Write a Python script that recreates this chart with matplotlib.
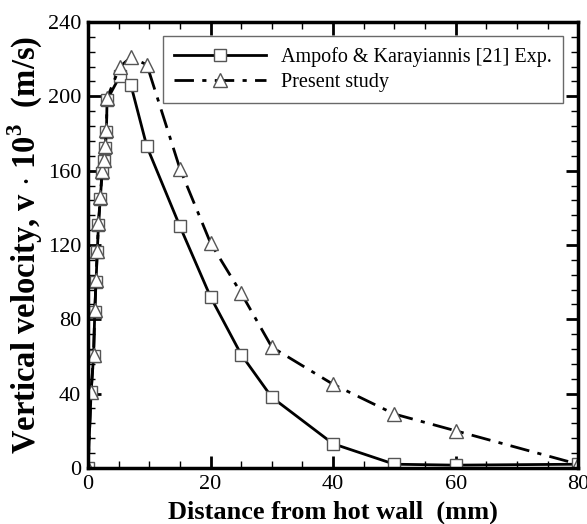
import matplotlib
matplotlib.use("Agg")
import matplotlib.pyplot as plt
from matplotlib.ticker import MultipleLocator

plt.rcParams['font.family'] = ['Liberation Serif', 'DejaVu Serif']
plt.rcParams['mathtext.fontset'] = 'custom'
plt.rcParams['mathtext.rm'] = 'Liberation Serif'
plt.rcParams['mathtext.bf'] = 'Liberation Serif:bold'

exp_x = [0, 0.5, 0.9, 1.1, 1.3, 1.5, 1.7, 2.0, 2.3, 2.6, 2.8, 3.0, 3.1, 5.2, 7.0, 9.6, 15, 20, 25, 30, 40, 50, 60, 80]
exp_y = [0, 41, 60, 84, 100, 116, 131, 145, 159, 165, 172, 181, 198, 211, 206, 173, 130, 92, 61, 38, 13, 2, 1.5, 2]

sim_x = [0, 0.5, 0.9, 1.1, 1.3, 1.5, 1.7, 2.0, 2.3, 2.6, 2.8, 3.0, 3.1, 5.2, 7.0, 9.6, 15, 20, 25, 30, 40, 50, 60, 80]
sim_y = [0, 41, 61, 85, 101, 117, 132, 146, 160, 166, 173, 182, 199, 216, 221, 217, 161, 121, 94, 65, 45, 29, 20, 2]

fig = plt.figure(figsize=(5.87, 5.24), dpi=100)
ax = fig.add_axes([0.15, 0.107, 0.835, 0.851])

ax.plot(exp_x, exp_y, '-', color='black', lw=2.0, marker='s', ms=8.5,
        mfc='white', mec='#555555', mew=1.0,
        label='Ampofo & Karayiannis [21] Exp.')
ax.plot(sim_x, sim_y, color='black', lw=2.0, ls=(0, (7, 3, 1.5, 3)), marker='^', ms=10.5,
        mfc='white', mec='#555555', mew=1.0, label='Present study')

ax.set_xlim(0, 80)
ax.set_ylim(0, 240)
ax.xaxis.set_major_locator(MultipleLocator(20))
ax.xaxis.set_minor_locator(MultipleLocator(5))
ax.yaxis.set_major_locator(MultipleLocator(40))
ax.yaxis.set_minor_locator(MultipleLocator(8))
ax.tick_params(which='both', direction='in', top=True, right=True, labelsize=16)
ax.tick_params(which='major', length=9, width=2)
ax.tick_params(which='minor', length=5, width=1)
ax.tick_params(axis='x', pad=5)
ax.tick_params(axis='y', pad=5)
for s in ax.spines.values():
    s.set_linewidth(2.5)

ax.set_xlabel('Distance from hot wall  (mm)', fontsize=19, fontweight='bold', labelpad=5)
ax.set_ylabel(r'Vertical velocity, v $\cdot$ 10$^{\mathbf{3}}$  (m/s)', fontsize=23.5,
              fontweight='bold', labelpad=2)

leg = ax.legend(loc='upper right', bbox_to_anchor=(0.968, 0.969), fontsize=14.5,
                handlelength=4.6, frameon=True, fancybox=False, borderpad=0.55,
                labelspacing=0.3, handletextpad=0.7, borderaxespad=0)
leg.get_frame().set_edgecolor('#444444')
leg.get_frame().set_linewidth(1.0)

fig.savefig('out.png', dpi=100)
